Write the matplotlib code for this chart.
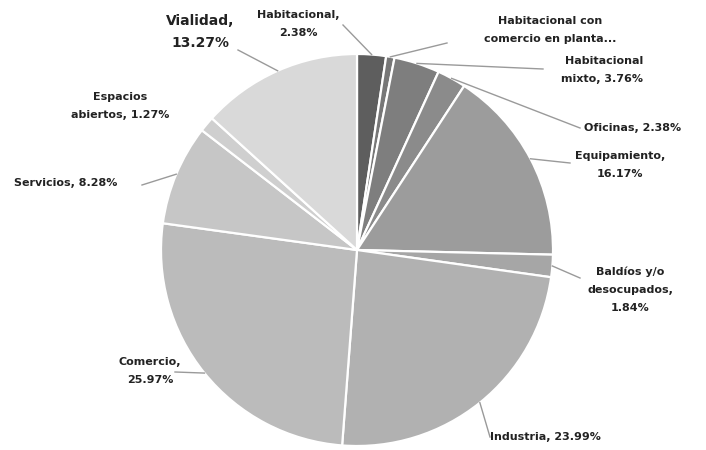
import numpy as np
import matplotlib
matplotlib.use("Agg")
import matplotlib.pyplot as plt

categories = ["Habitacional", "Habitacional con comercio en planta baja", "Habitacional mixto",
              "Oficinas", "Equipamiento", "Baldíos y/o desocupados", "Industria",
              "Comercio", "Servicios", "Espacios abiertos", "Vialidad"]
values = [2.38, 0.69, 3.76, 2.38, 16.17, 1.84, 23.99, 25.97, 8.28, 1.27, 13.27]
colors = ["#5e5e5e", "#777777", "#7e7e7e", "#8b8b8b", "#9c9c9c", "#a6a6a6",
          "#b1b1b1", "#bbbbbb", "#c6c6c6", "#cfcfcf", "#d9d9d9"]
labels = ["Habitacional,\n2.38%", "Habitacional con\ncomercio en planta...",
          "Habitacional\nmixto, 3.76%", "Oficinas, 2.38%", "Equipamiento,\n16.17%",
          "Baldíos y/o\ndesocupados,\n1.84%", "Industria, 23.99%", "Comercio,\n25.97%",
          "Servicios, 8.28%", "Espacios\nabiertos, 1.27%", "Vialidad,\n13.27%"]

W, H = 706, 450
fig = plt.figure(figsize=(W / 100, H / 100), dpi=100)
ax = fig.add_axes([0, 0, 1, 1])

cx, cy, r = 357, 250, 196
wedges, _ = ax.pie(values, colors=colors, startangle=90, counterclock=False,
                   radius=r, center=(cx, H - cy),
                   wedgeprops=dict(edgecolor="white", linewidth=1.6))
ax.set_xlim(0, W)
ax.set_ylim(0, H)
ax.set_aspect("equal")
ax.axis("off")

# label placement in pixel coords: (text x, text y, ha, leader end x, leader end y, fontsize, linespacing)
place = [
    (298, 24, "center", 343, 25, 8, 2.0),
    (550, 30, "center", 447, 43, 8, 2.0),
    (643, 70, "right", 543, 69, 8, 2.0),
    (584, 128, "left", 580, 128, 8, 2.0),
    (620, 165, "center", 570, 163, 8, 2.0),
    (630, 290, "center", 580, 278, 8, 2.0),
    (490, 437, "left", 490, 437, 8, 2.0),
    (150, 371, "center", 175, 372, 8, 2.0),
    (14, 183, "left", 142, 185, 8, 2.0),
    (120, 106, "center", None, None, 8, 2.0),
    (200, 32, "center", 238, 50, 10, 1.7),
]

txt_kw = dict(color="#222222", fontweight="bold", family=["DejaVu Sans"], va="center")
for w, lab, (tx, ty, ha, lx, ly, fs, ls) in zip(wedges, labels, place):
    ax.text(tx, H - ty, lab, ha=ha, fontsize=fs, linespacing=ls, **txt_kw)
    if lx is None:
        continue
    ang = np.deg2rad((w.theta1 + w.theta2) / 2)
    ex = cx + r * np.cos(ang)
    ey = (H - cy) + r * np.sin(ang)
    ax.plot([ex, lx], [ey, H - ly], color="#9a9a9a", linewidth=1.0)

fig.savefig("out.png", dpi=100)
